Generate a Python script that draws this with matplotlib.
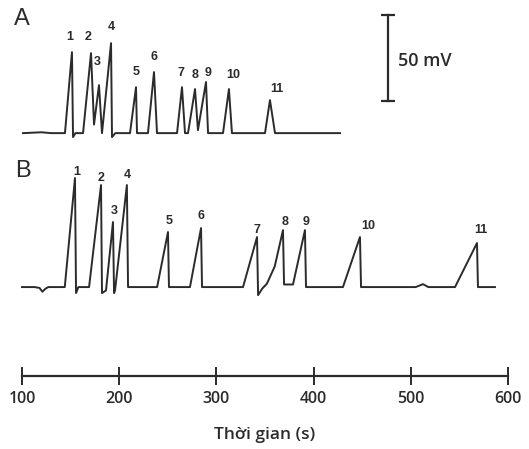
import matplotlib.pyplot as plt

# trace B (lower chromatogram): time (s) and signal (mV, baseline = 0)
time_b = [100, 113, 118, 121, 124, 127, 144, 154.5, 155.6, 158, 169, 181.3, 182.3,
          186.4, 193.6, 194.7, 195.7, 207.9, 209.1, 239, 250.2, 251.2, 272.8, 284.2,
          285.2, 327.4, 341.8, 342.9, 347, 352, 360, 368.5, 369.6, 372.6, 378.8, 391.1,
          392.2, 430.2, 447.7, 448.8, 505, 512.6, 518, 545.5, 568.1, 569.1, 586.6]
signal_b = [0, 0, -0.5, -2.7, -1, 0, 0, 63.4, -3.5, 0, 0, 59.3, -3.5,
            -2, 37.8, -3.5, -2, 59.3, 0, 0, 32, 0, 0, 34.3,
            0, 0, 29.1, -4.7, -1, 2, 12, 33.1, 1.5, 1.5, 1.5, 33.1,
            0, 0, 29.1, 0, 0, 1.7, 0, 0, 25.6, 0, 0]

# trace A (upper chromatogram), signal relative to its own baseline
time_a = [101, 120, 130, 144.2, 151.4, 152.5, 155, 162.8, 171, 174.1, 179.2, 182.3,
          191.6, 192.6, 196, 211.1, 217.3, 218.3, 229.6, 235.8, 238.9, 259.5, 264.6,
          267.7, 270.8, 278, 281, 289.3, 291.4, 306.8, 312.9, 316, 350, 355.1, 360.3,
          427.2]
signal_a = [0, 0.5, 0, 0, 47.1, -2.3, 0, 0, 46.5, 5, 27.9, 0,
            52.3, -2.3, 0, 0, 26.7, 0, 0, 35.5, 0, 0, 26.7,
            0, 0, 25.6, 1.7, 29.7, 0, 0, 25.6, 0, 0, 19.2, 0,
            0]
offset_a = 89.5

peak_labels = ["1", "2", "3", "4", "5", "6", "7", "8", "9", "10", "11"]
label_t_a = [149.4, 167.9, 177.2, 191.6, 217.3, 235.8, 263.6, 278, 291.4, 317.1, 362.3]
label_y_a = [145.3, 145.3, 130.8, 151.2, 125, 133.7, 124.4, 123.3, 124.4, 123.3, 115.1]
label_t_b = [156.6, 181.3, 194.7, 208, 251.2, 284.2, 341.8, 370.6, 392.2, 456, 572.2]
label_y_b = [66.9, 63.4, 44.2, 65.1, 38.4, 41.3, 33.1, 37.8, 37.8, 35.5, 33.1]

scale_bar_mv = 50
time_ticks = [100, 200, 300, 400, 500, 600]

ink = "#2b2b2b"

fig = plt.figure(figsize=(5.29, 4.49), dpi=100)
ax = fig.add_axes([22 / 529, 73 / 449, 486 / 529, 376 / 449])
ax.set_xlim(100, 600)
ax.set_ylim(-51.7, 166.9)

ax.plot(time_b, signal_b, color=ink, lw=1.4, clip_on=False)
ax.plot(time_a, [s + offset_a for s in signal_a], color=ink, lw=1.4, clip_on=False)

for lab, t, y in zip(peak_labels, label_t_a, label_y_a):
    ax.text(t, y, lab, ha="center", va="center", fontsize=9, fontweight="bold",
            family="Liberation Sans", color=ink)
for lab, t, y in zip(peak_labels, label_t_b, label_y_b):
    ax.text(t, y, lab, ha="center", va="center", fontsize=9, fontweight="bold",
            family="Liberation Sans", color=ink)

ax.text(99.5, 156, "A", fontsize=17, family="Liberation Sans", color=ink,
        ha="center", va="center", clip_on=False)
ax.text(100.5, 67.2, "B", fontsize=17, family="Liberation Sans", color=ink,
        ha="center", va="center", clip_on=False)

# 50 mV scale bar
bar_t = 476.5
bar_bottom = 108.1
ax.plot([bar_t, bar_t], [bar_bottom, bar_bottom + scale_bar_mv], color=ink, lw=1.6)
ax.plot([bar_t, bar_t], [bar_bottom, bar_bottom + scale_bar_mv], ls="none",
        marker="_", markersize=10, mew=1.6, color=ink)
ax.text(bar_t + 10, bar_bottom + 0.47 * scale_bar_mv, "50 mV", fontsize=13,
        family="Open Sans", fontweight="semibold", color=ink, va="center", ha="left")

for side in ["left", "right", "top"]:
    ax.spines[side].set_visible(False)
ax.spines["bottom"].set_linewidth(1.6)
ax.spines["bottom"].set_color(ink)
ax.set_yticks([])
ax.set_xticks(time_ticks)
ax.tick_params(axis="x", direction="inout", length=13, width=1.4, colors=ink,
               labelsize=11.5, pad=4)
for lab in ax.get_xticklabels():
    lab.set_family("Open Sans")
    lab.set_fontweight("semibold")
ax.set_xlabel("Thời gian (s)", fontsize=12.5, family="Open Sans",
              fontweight="semibold", color=ink, labelpad=15)

fig.savefig("out.png", dpi=100)
